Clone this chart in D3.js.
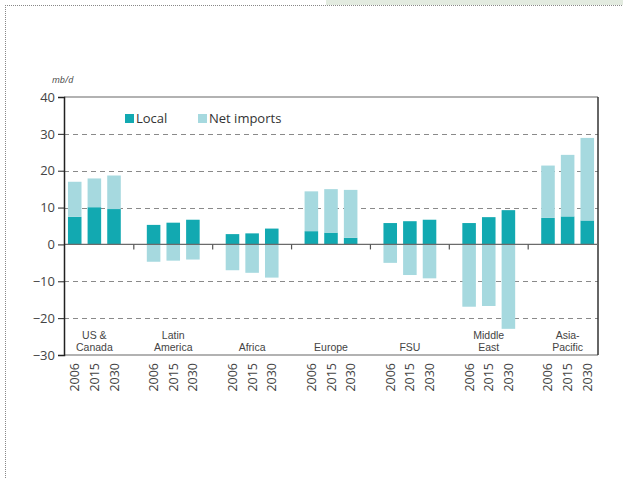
<!DOCTYPE html>
<html>
<head>
<meta charset="utf-8">
<script src="https://cdn.jsdelivr.net/npm/d3@7.9.0/dist/d3.min.js"></script>
<style>
  body { margin: 0; background: #fff; }
  svg { display: block; font-family: "Open Sans", sans-serif; }
</style>
</head>
<body>
<svg id="chart" width="623" height="478"></svg>
<script>
// regions, years and values (mb/d)
const regions = [['US &', 'Canada'], ['Latin', 'America'], ['Africa'], ['Europe'], ['FSU'], ['Middle', 'East'], ['Asia-', 'Pacific']];
const years = ['2006', '2015', '2030'];
const local = [
  [7.5, 10.1, 9.6],
  [5.3, 5.9, 6.7],
  [2.8, 3.0, 4.3],
  [3.6, 3.2, 1.8],
  [5.8, 6.3, 6.7],
  [5.8, 7.4, 9.3],
  [7.2, 7.6, 6.5]
];
const netImports = [
  [9.5, 7.8, 9.1],
  [-4.7, -4.4, -4.1],
  [-7.0, -7.7, -9.0],
  [10.8, 11.8, 13.0],
  [-5.0, -8.3, -9.2],
  [-16.9, -16.7, -22.9],
  [14.2, 16.7, 22.4]
];
const yTicks = [-30, -20, -10, 0, 10, 20, 30, 40];
const seriesNames = ['Local', 'Net imports'];
const colors = ['#12a9b1', '#a6d9df'];

const svg = d3.select('#chart');
const margin = { left: 64, right: 25, top: 97, bottom: 123 };
const W = 623, H = 478;

// page decoration: dotted frame and pale strip at top
svg.append('rect').attr('x', 326).attr('y', 0).attr('width', 297).attr('height', 5).attr('fill', '#e3ebe0');
svg.append('line').attr('x1', 5).attr('x2', 623).attr('y1', 5.5).attr('y2', 5.5)
  .attr('stroke', '#888').attr('stroke-dasharray', '1,1');
svg.append('line').attr('x1', 5.5).attr('x2', 5.5).attr('y1', 5).attr('y2', 478)
  .attr('stroke', '#888').attr('stroke-dasharray', '1,1');

const x0 = d3.scaleBand().domain(d3.range(regions.length))
  .range([margin.left, W - margin.right]).paddingInner(0.33).paddingOuter(0.05);
const x1 = d3.scaleBand().domain(years).range([0, x0.bandwidth()]).paddingInner(0.31);
const y = d3.scaleLinear().domain([-30, 40]).range([H - margin.bottom, margin.top]);

// grid lines
svg.append('g').selectAll('line').data(yTicks.filter(d => d !== 0 && d !== 40 && d !== -30))
  .join('line')
  .attr('x1', margin.left).attr('x2', W - margin.right)
  .attr('y1', d => Math.round(y(d)) + 0.5).attr('y2', d => Math.round(y(d)) + 0.5)
  .attr('stroke', '#8a8a8a').attr('stroke-width', 1.2).attr('stroke-dasharray', '5,4');

// frame
svg.append('line').attr('x1', margin.left).attr('x2', W - margin.right)
  .attr('y1', y(40)).attr('y2', y(40)).attr('stroke', '#999').attr('stroke-width', 1.5);
svg.append('line').attr('x1', margin.left).attr('x2', W - margin.right)
  .attr('y1', y(-30)).attr('y2', y(-30)).attr('stroke', '#999').attr('stroke-width', 1.5);
svg.append('line').attr('x1', W - margin.right).attr('x2', W - margin.right)
  .attr('y1', y(40)).attr('y2', y(-30)).attr('stroke', '#333').attr('stroke-width', 1.5);

// stacked bars
const rows = [];
regions.forEach((r, i) => years.forEach((yr, j) => rows.push({ region: i, year: yr, local: local[i][j], net: netImports[i][j] })));
const stack = d3.stack().keys(['local', 'net']).offset(d3.stackOffsetDiverging);
const layers = stack(rows);

layers.forEach((layer, k) => {
  svg.append('g').selectAll('rect').data(layer).join('rect')
    .attr('x', d => x0(d.data.region) + x1(d.data.year))
    .attr('width', x1.bandwidth())
    .attr('y', d => y(Math.max(d[0], d[1])))
    .attr('height', d => Math.abs(y(d[0]) - y(d[1])))
    .attr('fill', colors[k]);
});

// zero line with small separators between regions
svg.append('line').attr('x1', margin.left).attr('x2', W - margin.right)
  .attr('y1', y(0)).attr('y2', y(0)).attr('stroke', '#6b6b6b').attr('stroke-width', 1.2);
svg.append('g').selectAll('line').data(d3.range(1, regions.length)).join('line')
  .attr('x1', i => x0(i) - x0.step() * x0.paddingInner() / 2)
  .attr('x2', i => x0(i) - x0.step() * x0.paddingInner() / 2)
  .attr('y1', y(0)).attr('y2', y(0) + 5)
  .attr('stroke', '#555').attr('stroke-width', 1.2);

// y axis
const yAxis = svg.append('g').attr('transform', `translate(${margin.left},0)`)
  .call(d3.axisLeft(y).tickValues(yTicks).tickSize(6).tickFormat(d => d < 0 ? '\u2212' + Math.abs(d) : d));
yAxis.select('.domain').attr('stroke', '#222').attr('stroke-width', 1.5);
yAxis.selectAll('.tick line').attr('stroke', '#222');
yAxis.selectAll('text').attr('font-size', 13).attr('fill', '#444').attr('font-family', '"Open Sans", sans-serif');

svg.append('text').attr('x', 52).attr('y', 83).attr('text-anchor', 'start')
  .attr('font-size', 9).attr('font-style', 'italic').attr('fill', '#444').text('mb/d');

// region labels inside plot, one text per line (tighter font so lines fit)
regions.forEach((lines, i) => {
  const cx = x0(i) + x0.bandwidth() / 2;
  lines.forEach((ln, k) => {
    svg.append('text').attr('text-anchor', 'middle').attr('font-size', 10.5)
      .attr('font-family', '"Liberation Sans", sans-serif').attr('fill', '#444')
      .attr('x', cx).attr('y', y(-30) - 4 - (lines.length - 1 - k) * 12).text(ln);
  });
});

// year labels, rotated
rows.forEach(d => {
  const cx = x0(d.region) + x1(d.year) + x1.bandwidth() / 2;
  svg.append('text')
    .attr('transform', `translate(${cx + 4.5},${y(-30) + 8}) rotate(-90)`)
    .attr('text-anchor', 'end').attr('font-size', 12.5).attr('fill', '#444')
    .text(d.year);
});

// legend
const legendX = [125, 198];
seriesNames.forEach((name, k) => {
  svg.append('rect').attr('x', legendX[k]).attr('y', 114).attr('width', 9).attr('height', 9).attr('fill', colors[k]);
  svg.append('text').attr('x', legendX[k] + 11).attr('y', 123).attr('font-size', 13).attr('fill', '#333').text(name);
});
</script>
</body>
</html>
